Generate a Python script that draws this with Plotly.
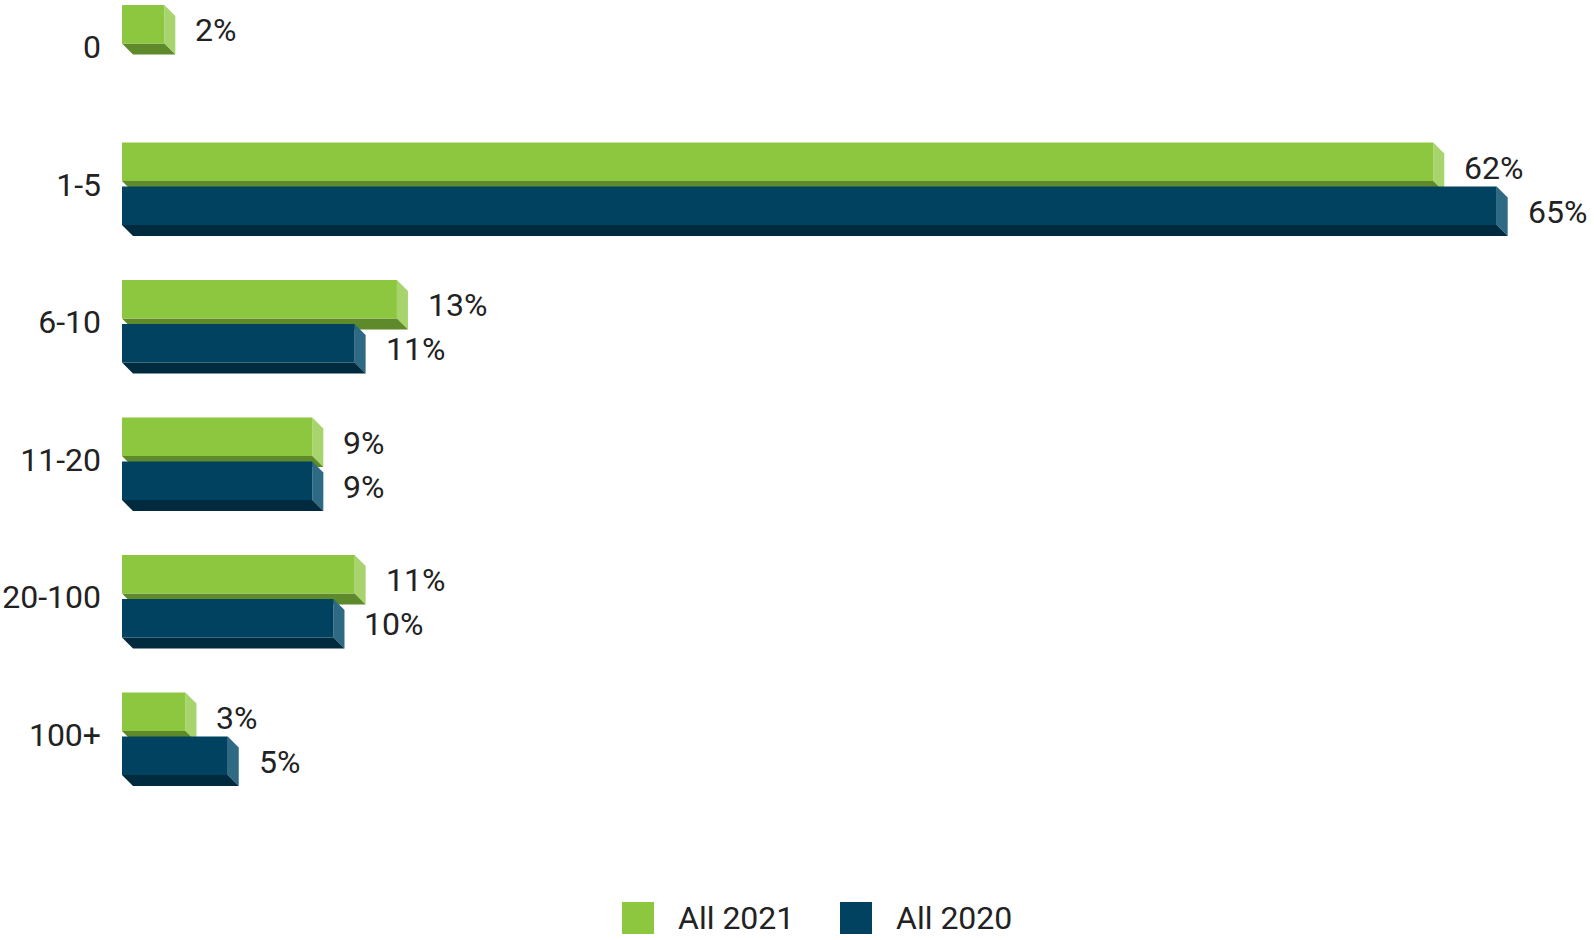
import plotly.graph_objects as go

# ---------------- data ----------------
categories = ["0", "1-5", "6-10", "11-20", "20-100", "100+"]
values_2021 = [2, 62, 13, 9, 11, 3]
values_2020 = [None, 65, 11, 9, 10, 5]
series_names = ["All 2021", "All 2020"]

# ---------------- style ----------------
FRONT = ["#8dc63f", "#00425f"]
SIDE = ["#a7d46d", "#2f6a85"]
BOTTOM = ["#5f8a2c", "#002b3e"]
TEXT = "#222222"
FONT = "Roboto"
FS = 32

W, H = 1594, 940
ML, MR, MT, MB = 122, 0, 0, 80
X_RANGE = [0, 69.6]
Y_RANGE = [5.913, -0.342]
PLOT_W = W - ML - MR
PLOT_H = H - MT - MB
px_per_x = PLOT_W / (X_RANGE[1] - X_RANGE[0])
px_per_y = PLOT_H / abs(Y_RANGE[0] - Y_RANGE[1])
DEPTH = 11
dx = DEPTH / px_per_x
dy = DEPTH / px_per_y
BAR_W = 0.28
OFFSETS = [-0.305, 0.015]

# legend layout (pixels on page)
LEG_Y = 918
LEG_X = [622, 840]
LEG_SQ = 32
LEG_GAP = 22


def paper_x(px):
    return (px - ML) / PLOT_W


def paper_y(py):
    return (MT + PLOT_H - py) / PLOT_H


positions = list(range(len(categories)))
series = [values_2021, values_2020]

fig = go.Figure()
shapes = []
annotations = []

for s, (vals, name) in enumerate(zip(series, series_names)):
    fig.add_trace(go.Bar(
        x=vals, y=positions, orientation="h", name=name,
        width=BAR_W, offset=OFFSETS[s],
        marker=dict(color=FRONT[s], line=dict(width=0)),
        showlegend=False,
        hovertemplate="%{x}%<extra>" + name + "</extra>",
    ))
    for i, v in zip(positions, vals):
        if v is None:
            continue
        yt = i + OFFSETS[s]
        yb = yt + BAR_W
        shapes.append(dict(
            type="path", xref="x", yref="y", layer="below",
            path=f"M {v},{yt} L {v+dx},{yt+dy} L {v+dx},{yb+dy} L {v},{yb} Z",
            fillcolor=SIDE[s], line=dict(width=0),
        ))
        shapes.append(dict(
            type="path", xref="x", yref="y", layer="below",
            path=f"M 0,{yb} L {dx},{yb+dy} L {v+dx},{yb+dy} L {v},{yb} Z",
            fillcolor=BOTTOM[s], line=dict(width=0),
        ))
        annotations.append(dict(
            x=v, y=yt + BAR_W / 2, xref="x", yref="y",
            text=f"{v}%", showarrow=False, xanchor="left", yanchor="middle",
            xshift=29, yshift=-6,
            font=dict(family=FONT, size=FS, color=TEXT),
        ))

    # legend entry (square + label)
    lx = LEG_X[s]
    shapes.append(dict(
        type="rect", xref="paper", yref="paper",
        x0=paper_x(lx), x1=paper_x(lx + LEG_SQ),
        y0=paper_y(LEG_Y + LEG_SQ / 2), y1=paper_y(LEG_Y - LEG_SQ / 2),
        fillcolor=FRONT[s], line=dict(width=0),
    ))
    annotations.append(dict(
        x=paper_x(lx + LEG_SQ + LEG_GAP), y=paper_y(LEG_Y), xref="paper", yref="paper",
        text=name, showarrow=False, xanchor="left", yanchor="middle",
        font=dict(family=FONT, size=FS, color=TEXT),
    ))

fig.update_layout(
    width=W, height=H,
    margin=dict(l=ML, r=MR, t=MT, b=MB, pad=0),
    paper_bgcolor="white", plot_bgcolor="white",
    barmode="overlay",
    showlegend=False,
    shapes=shapes, annotations=annotations,
    font=dict(family=FONT, size=FS, color=TEXT),
    xaxis=dict(range=X_RANGE, visible=False, showgrid=False, zeroline=False),
    yaxis=dict(
        range=Y_RANGE, tickmode="array", tickvals=positions, ticktext=categories,
        showgrid=False, zeroline=False, showline=False, ticks="",
        ticklabelstandoff=20,
        tickfont=dict(family=FONT, size=FS, color=TEXT),
    ),
)

fig.write_html(
    "out.html",
    config={"displayModeBar": False},
    post_script="document.body.style.margin='0';",
)
